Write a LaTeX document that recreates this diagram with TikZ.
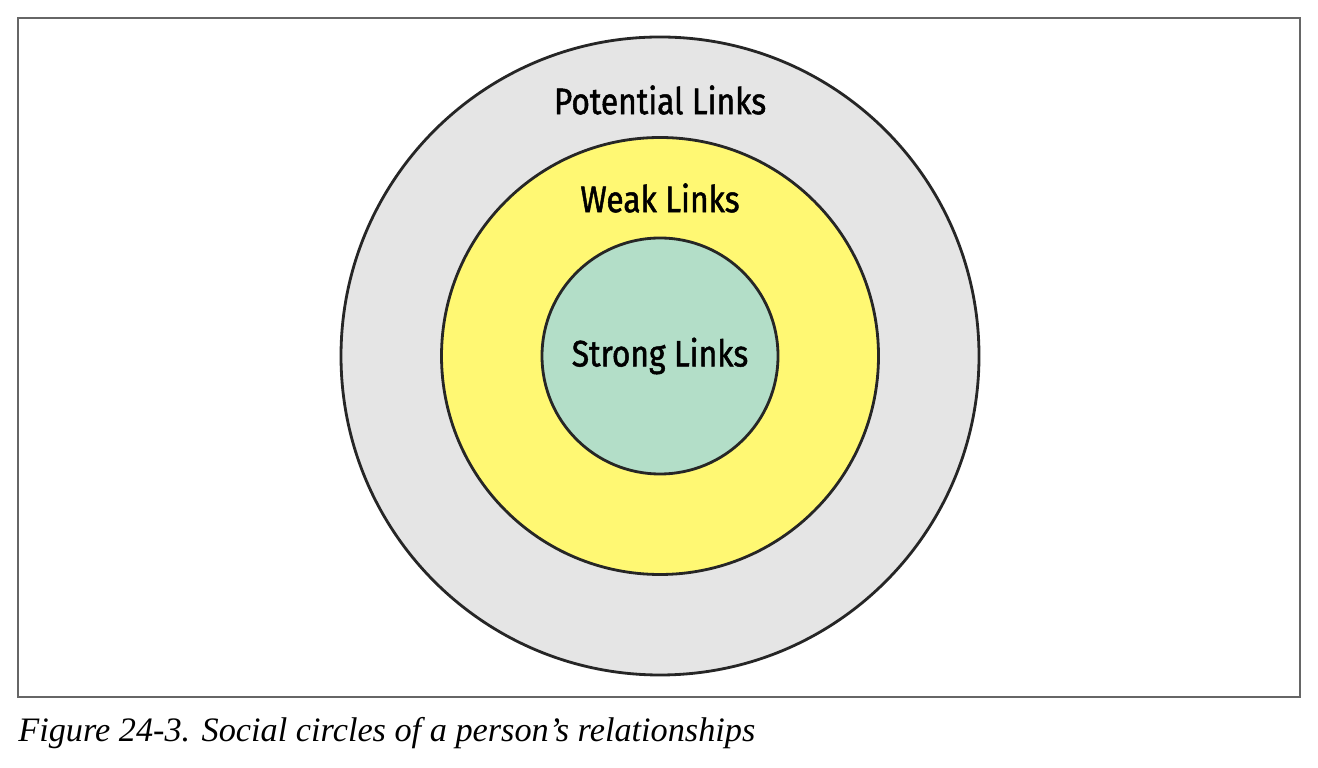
\documentclass[tikz,border=0pt]{standalone}
\usepackage{fontspec}
\setmainfont{Liberation Serif}
\newfontfamily\linkfont[FakeStretch=0.86,FakeBold=1.3]{Fira Sans}
\usetikzlibrary{positioning}

\begin{document}
\begin{tikzpicture}[
    ring/.style={
        circle,
        draw=black!85,
        line width=1.6pt,
        inner sep=0pt
    },
    linklabel/.style={font=\linkfont\fontsize{21}{24}\selectfont}
]

\useasboundingbox (0,0) rectangle (26.36,15.36);
\draw[black!60, line width=0.6pt] (0.36,1.42) rectangle (26.0,15.0);

\node[ring, fill=gray!20, minimum size=12.76cm] (potential) at (13.2,8.24) {};
\node[ring, fill=yellow!55, minimum size=8.74cm] (weak) at (potential.center) {};
\node[ring, fill={rgb,255:red,179;green,222;blue,200}, minimum size=4.72cm] (strong) at (potential.center) {};

\node[linklabel] (potentiallabel) at (13.2,13.36) {Potential Links};
\node[linklabel] (weaklabel) at (13.2,11.40) {Weak Links};
\node[linklabel] (stronglabel) at (strong.center) {Strong Links};

\node[anchor=west, inner sep=0pt, font=\itshape\fontsize{19.5}{22}\selectfont] (caption) at (0.36,0.70) {Figure 24-3. Social circles of a person’s relationships};

\end{tikzpicture}
\end{document}
